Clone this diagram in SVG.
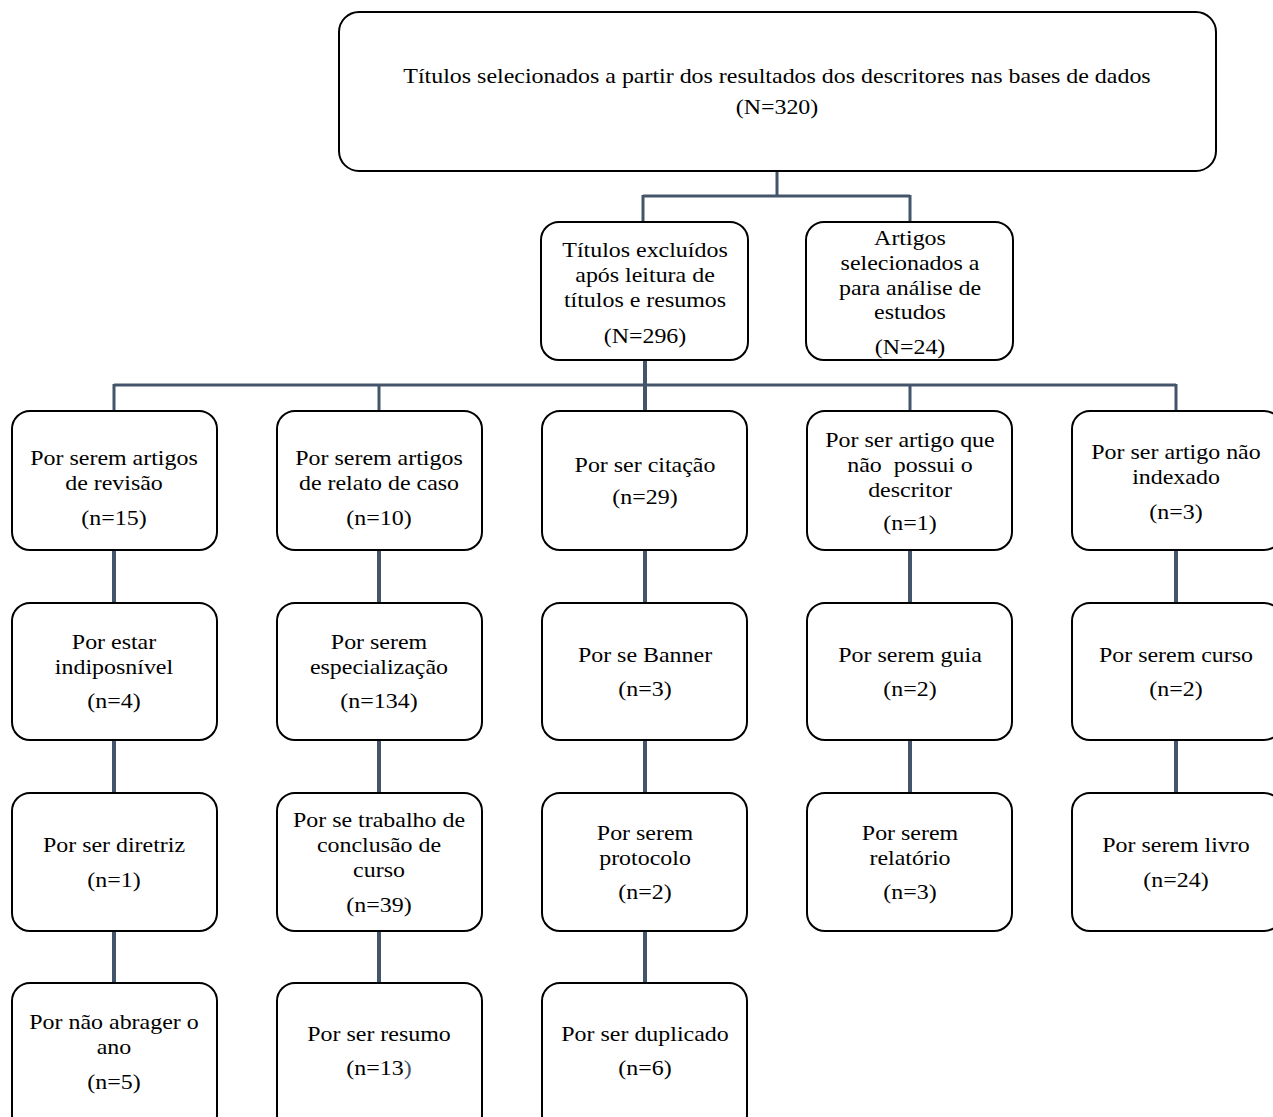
<svg xmlns="http://www.w3.org/2000/svg" width="1273" height="1117" viewBox="0 0 1273 1117">
<style>
.box{fill:#fff;stroke:#000;stroke-width:2}
.t{font-family:"Liberation Serif","Times New Roman",serif;font-size:21px;fill:#000;text-anchor:middle}
.h{stroke:#44546A;stroke-width:3;fill:none}
.v{stroke:#44546A;stroke-width:4;fill:none}
</style>
<rect width="1273" height="1117" fill="#fff"/>
<g id="connectors">
<path class="h" d="M777 171V196M643 196H910M643 195V222M910 195V222"/>
<path class="h" d="M114 385H1176M114 384V411M379 384V411M910 384V411M1176 384V411"/>
<path class="v" d="M645 360V411"/>
<path class="v" d="M114 550V603M114 740V793M114 931V983"/>
<path class="v" d="M379 550V603M379 740V793M379 931V983"/>
<path class="v" d="M645 550V603M645 740V793M645 931V983"/>
<path class="v" d="M910 550V603M910 740V793"/>
<path class="v" d="M1176 550V603M1176 740V793"/>
</g>
<g id="top"><rect class="box" x="339" y="12" width="877" height="159" rx="20"/>
<g transform="translate(777 0) scale(1.14 1)"><text class="t" x="0" y="83">Títulos selecionados a partir dos resultados dos descritores nas bases de dados</text>
<text class="t" x="0" y="114">(N=320)</text></g></g>
<g id="excl"><rect class="box" x="541" y="222" width="207" height="138" rx="18"/>
<g transform="translate(645 0) scale(1.14 1)"><text class="t" x="0" y="257">Títulos excluídos</text><text class="t" x="0" y="282">após leitura de</text><text class="t" x="0" y="307">títulos e resumos</text><text class="t" x="0" y="343">(N=296)</text></g></g>
<g id="sel"><rect class="box" x="806" y="222" width="207" height="138" rx="18"/>
<g transform="translate(910 0) scale(1.14 1)"><text class="t" x="0" y="245">Artigos</text><text class="t" x="0" y="270">selecionados a</text><text class="t" x="0" y="295">para análise de</text><text class="t" x="0" y="319">estudos</text><text class="t" x="0" y="354">(N=24)</text></g></g>

<g id="r1c1"><rect class="box" x="12" y="411" width="205" height="139" rx="18"/>
<g transform="translate(114 0) scale(1.14 1)"><text class="t" x="0" y="465">Por serem artigos</text><text class="t" x="0" y="490">de revisão</text><text class="t" x="0" y="525">(n=15)</text></g></g>
<g id="r1c2"><rect class="box" x="277" y="411" width="205" height="139" rx="18"/>
<g transform="translate(379 0) scale(1.14 1)"><text class="t" x="0" y="465">Por serem artigos</text><text class="t" x="0" y="490">de relato de caso</text><text class="t" x="0" y="525">(n=10)</text></g></g>
<g id="r1c3"><rect class="box" x="542" y="411" width="205" height="139" rx="18"/>
<g transform="translate(645 0) scale(1.14 1)"><text class="t" x="0" y="472">Por ser citação</text><text class="t" x="0" y="504">(n=29)</text></g></g>
<g id="r1c4"><rect class="box" x="807" y="411" width="205" height="139" rx="18"/>
<g transform="translate(910 0) scale(1.14 1)"><text class="t" x="0" y="447">Por ser artigo que</text><text class="t" x="0" y="472" xml:space="preserve">não  possui o</text><text class="t" x="0" y="497">descritor</text><text class="t" x="0" y="530">(n=1)</text></g></g>
<g id="r1c5"><rect class="box" x="1072" y="411" width="210" height="139" rx="18"/>
<g transform="translate(1176 0) scale(1.14 1)"><text class="t" x="0" y="459">Por ser artigo não</text><text class="t" x="0" y="484">indexado</text><text class="t" x="0" y="519">(n=3)</text></g></g>

<g id="r2c1"><rect class="box" x="12" y="603" width="205" height="137" rx="18"/>
<g transform="translate(114 0) scale(1.14 1)"><text class="t" x="0" y="649">Por estar</text><text class="t" x="0" y="674">indiposnível</text><text class="t" x="0" y="708">(n=4)</text></g></g>
<g id="r2c2"><rect class="box" x="277" y="603" width="205" height="137" rx="18"/>
<g transform="translate(379 0) scale(1.14 1)"><text class="t" x="0" y="649">Por serem</text><text class="t" x="0" y="674">especialização</text><text class="t" x="0" y="708">(n=134)</text></g></g>
<g id="r2c3"><rect class="box" x="542" y="603" width="205" height="137" rx="18"/>
<g transform="translate(645 0) scale(1.14 1)"><text class="t" x="0" y="662">Por se Banner</text><text class="t" x="0" y="696">(n=3)</text></g></g>
<g id="r2c4"><rect class="box" x="807" y="603" width="205" height="137" rx="18"/>
<g transform="translate(910 0) scale(1.14 1)"><text class="t" x="0" y="662">Por serem guia</text><text class="t" x="0" y="696">(n=2)</text></g></g>
<g id="r2c5"><rect class="box" x="1072" y="603" width="210" height="137" rx="18"/>
<g transform="translate(1176 0) scale(1.14 1)"><text class="t" x="0" y="662">Por serem curso</text><text class="t" x="0" y="696">(n=2)</text></g></g>

<g id="r3c1"><rect class="box" x="12" y="793" width="205" height="138" rx="18"/>
<g transform="translate(114 0) scale(1.14 1)"><text class="t" x="0" y="852">Por ser diretriz</text><text class="t" x="0" y="887">(n=1)</text></g></g>
<g id="r3c2"><rect class="box" x="277" y="793" width="205" height="138" rx="18"/>
<g transform="translate(379 0) scale(1.14 1)"><text class="t" x="0" y="827">Por se trabalho de</text><text class="t" x="0" y="852">conclusão de</text><text class="t" x="0" y="877">curso</text><text class="t" x="0" y="912">(n=39)</text></g></g>
<g id="r3c3"><rect class="box" x="542" y="793" width="205" height="138" rx="18"/>
<g transform="translate(645 0) scale(1.14 1)"><text class="t" x="0" y="840">Por serem</text><text class="t" x="0" y="865">protocolo</text><text class="t" x="0" y="899">(n=2)</text></g></g>
<g id="r3c4"><rect class="box" x="807" y="793" width="205" height="138" rx="18"/>
<g transform="translate(910 0) scale(1.14 1)"><text class="t" x="0" y="840">Por serem</text><text class="t" x="0" y="865">relatório</text><text class="t" x="0" y="899">(n=3)</text></g></g>
<g id="r3c5"><rect class="box" x="1072" y="793" width="210" height="138" rx="18"/>
<g transform="translate(1176 0) scale(1.14 1)"><text class="t" x="0" y="852">Por serem livro</text><text class="t" x="0" y="887">(n=24)</text></g></g>

<g id="r4c1"><rect class="box" x="12" y="983" width="205" height="150" rx="18"/>
<g transform="translate(114 0) scale(1.14 1)"><text class="t" x="0" y="1029">Por não abrager o</text><text class="t" x="0" y="1054">ano</text><text class="t" x="0" y="1089">(n=5)</text></g></g>
<g id="r4c2"><rect class="box" x="277" y="983" width="205" height="150" rx="18"/>
<g transform="translate(379 0) scale(1.14 1)"><text class="t" x="0" y="1041">Por ser resumo</text><text class="t" x="0" y="1075">(n=13<tspan fill="#44546A">)</tspan></text></g></g>
<g id="r4c3"><rect class="box" x="542" y="983" width="205" height="150" rx="18"/>
<g transform="translate(645 0) scale(1.14 1)"><text class="t" x="0" y="1041">Por ser duplicado</text><text class="t" x="0" y="1075">(n=6)</text></g></g>
</svg>
